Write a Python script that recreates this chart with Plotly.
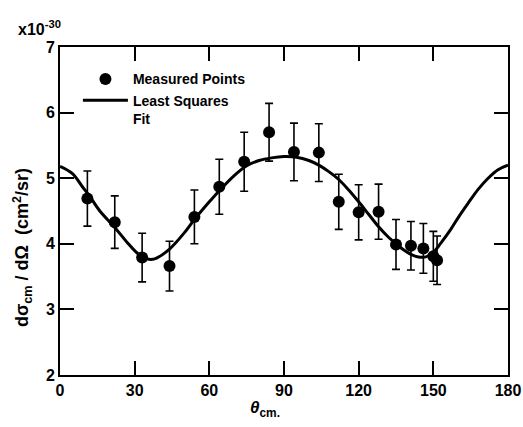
import plotly.graph_objects as go

# Measured points (theta_cm in degrees, dsigma/dOmega in units of 1e-30 cm^2/sr)
theta_pts = [11, 22, 33, 44, 54, 64, 74, 84, 94, 104, 112, 120, 128, 135, 141, 146, 150, 151.5]
sigma_pts = [4.69, 4.33, 3.79, 3.66, 4.41, 4.87, 5.25, 5.70, 5.40, 5.39, 4.64, 4.48, 4.49, 3.99, 3.97, 3.93, 3.81, 3.75]
sigma_err = [0.42, 0.40, 0.37, 0.38, 0.41, 0.42, 0.45, 0.44, 0.44, 0.44, 0.42, 0.42, 0.42, 0.38, 0.37, 0.38, 0.38, 0.37]

# Least squares fit curve
theta_fit = [0, 5, 9, 12, 16, 22, 27, 31, 35, 38, 44, 50, 54, 60, 64, 70, 75, 80, 85, 90,
             95, 100, 104, 108, 112, 116, 120, 124, 128, 132, 135, 138, 141, 144, 147,
             150, 153, 157, 160, 164, 168, 172, 176, 180]
sigma_fit = [5.18, 5.07, 4.87, 4.72, 4.50, 4.25, 4.02, 3.86, 3.77, 3.77, 3.92, 4.17, 4.37, 4.64, 4.81, 5.04, 5.19, 5.27, 5.31, 5.33,
             5.32, 5.27, 5.20, 5.10, 4.98, 4.82, 4.64, 4.45, 4.26, 4.10, 4.00, 3.91, 3.84, 3.80, 3.80,
             3.87, 4.01, 4.22, 4.40, 4.62, 4.83, 5.00, 5.13, 5.20]

x_ticks = [0, 30, 60, 90, 120, 150, 180]
y_ticks = [2, 3, 4, 5, 6, 7]

FONT = "Liberation Sans"

fig = go.Figure()
fig.add_trace(go.Scatter(
    x=theta_pts, y=sigma_pts, mode="markers", name="<b>Measured Points</b>",
    marker=dict(color="black", size=12),
    error_y=dict(type="data", array=sigma_err, color="black", thickness=1.6, width=4),
))
fig.add_trace(go.Scatter(
    x=theta_fit, y=sigma_fit, mode="lines", name="<b>Least Squares<br>Fit</b>",
    line=dict(color="black", width=3, shape="spline", smoothing=1.0),
))

axis_common = dict(
    showgrid=False, zeroline=False, showline=True, linecolor="black", linewidth=2,
    mirror="ticks", ticks="inside", ticklen=14, tickwidth=2, tickcolor="black",
    tickfont=dict(family=FONT, size=16, color="black"), automargin=False,
    ticklabeloverflow="allow",
)
fig.update_xaxes(range=[0, 180], tickvals=x_ticks, ticktext=[f"<b>{v}</b>" for v in x_ticks],
                 **axis_common)
fig.update_yaxes(range=[2, 7], tickvals=y_ticks, ticktext=[f"<b>{v}</b>" for v in y_ticks],
                 **axis_common)

# axis titles and scale factor as annotations (placed like the original)
fig.add_annotation(xref="paper", yref="paper", x=-0.085, y=0.39, xanchor="center", yanchor="middle",
                   textangle=-90, text="<b>dσ<sub>cm</sub> / dΩ  (cm<sup>2</sup>/sr)</b>", showarrow=False,
                   font=dict(family=FONT, size=18, color="black"))
fig.add_annotation(xref="paper", yref="paper", x=0.458, y=-0.065, xanchor="center", yanchor="top",
                   text="<b><i>θ</i><sub>cm.</sub></b>", showarrow=False,
                   font=dict(family=FONT, size=17, color="black"))
fig.add_annotation(xref="paper", yref="paper", x=-0.045, y=1.021, xanchor="center", yanchor="bottom",
                   text="<b>x10<sup style='font-size:12px'>-30</sup></b>", showarrow=False,
                   font=dict(family=FONT, size=16, color="black"))

fig.update_layout(
    width=523, height=427,
    margin=dict(l=60, r=15, t=47, b=52, autoexpand=False),
    paper_bgcolor="white", plot_bgcolor="white",
    showlegend=True,
    legend=dict(x=0.04, y=0.95, xanchor="left", yanchor="top", bgcolor="rgba(0,0,0,0)",
                font=dict(family=FONT, size=14, color="black"), tracegroupgap=2, valign="top",
                itemwidth=45),
)

# remove the default page margin so the 523x427 figure fills the window exactly
fig.write_html("out.html", config={"displayModeBar": False},
               post_script="document.body.style.margin='0px';")
